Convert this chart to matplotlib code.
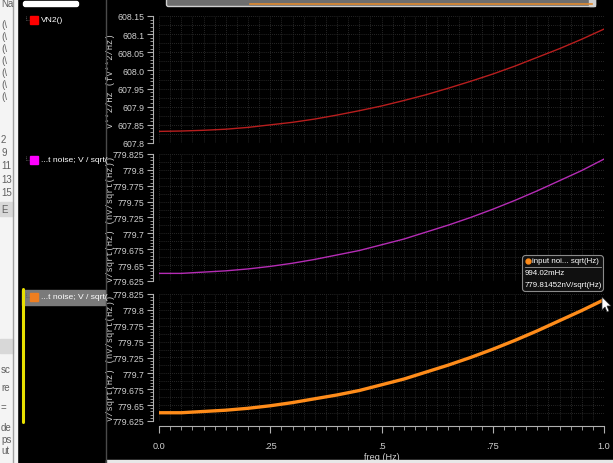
import numpy as np
import matplotlib
matplotlib.use("Agg")
import matplotlib.pyplot as plt
from matplotlib.ticker import MultipleLocator, FixedFormatter
from matplotlib.patches import Rectangle, FancyBboxPatch

freq = [0.0, 0.05, 0.1, 0.15, 0.2, 0.25, 0.3, 0.35, 0.4, 0.45, 0.5,
        0.55, 0.6, 0.65, 0.7, 0.75, 0.8, 0.85, 0.9, 0.95, 1.0]
vn2 = [607.832, 607.833, 607.835, 607.838, 607.843, 607.850, 607.857,
       607.866, 607.877, 607.889, 607.902, 607.917, 607.933, 607.951,
       607.970, 607.990, 608.012, 608.036, 608.060, 608.086, 608.114]
vn_mid = [779.637, 779.637, 779.639, 779.641, 779.644, 779.648, 779.653,
          779.659, 779.666, 779.673, 779.682, 779.691, 779.702, 779.713,
          779.725, 779.738, 779.752, 779.767, 779.783, 779.799, 779.817]
vn_bot = [779.638, 779.638, 779.640, 779.642, 779.645, 779.649, 779.654,
          779.660, 779.666, 779.673, 779.682, 779.691, 779.702, 779.713,
          779.725, 779.738, 779.752, 779.767, 779.783, 779.799, 779.816]

xtick_vals = [0.0, 0.25, 0.5, 0.75, 1.0]
xtick_labels = ["0.0", ".25", ".5", ".75", "1.0"]
top_ticks = [607.8, 607.85, 607.9, 607.95, 608.0, 608.05, 608.1, 608.15]
top_labels = ["607.8", "607.85", "607.9", "607.95", "608.0", "608.05", "608.1", "608.15"]
nv_ticks = [779.625, 779.65, 779.675, 779.7, 779.725, 779.75, 779.775, 779.8, 779.825]
nv_labels = ["779.625", "779.65", "779.675", "779.7", "779.725", "779.75", "779.775", "779.8", "779.825"]

W, H = 613, 464
fig = plt.figure(figsize=(W / 100, H / 100), dpi=100, facecolor="black")

TXT = "#d0d0d0"
GRID = "#333333"
UI = dict(family="Liberation Sans")


def px_axes(x0, y0, x1, y1, **kw):
    return fig.add_axes([x0 / W, 1 - y1 / H, (x1 - x0) / W, (y1 - y0) / H], **kw)


def style_panel(ax, ylim, ticks, labels, minor_step, grid_step, ylabel, show_x):
    ax.set_facecolor("black")
    ax.set_xlim(0, 1)
    ax.set_ylim(*ylim)
    for s in ("top", "right"):
        ax.spines[s].set_visible(False)
    ax.spines["left"].set_position(("outward", 4.3))
    ax.spines["left"].set_color("#b0b0b0")
    ax.set_yticks(ticks)
    ax.yaxis.set_major_formatter(FixedFormatter(labels))
    ax.yaxis.set_minor_locator(MultipleLocator(minor_step))
    ax.tick_params(axis="y", which="major", length=4, width=0.8, colors="#b0b0b0",
                   labelcolor=TXT, labelsize=6.3, pad=2)
    ax.tick_params(axis="y", which="minor", length=2, width=0.6, colors="#b0b0b0")
    for lab in ax.get_yticklabels():
        lab.set(**UI)
    # dotted grid
    for xv in np.arange(0, 1.0001, 0.025):
        ax.axvline(xv, color=GRID, lw=0.6, ls=(0, (1, 1.5)), zorder=0)
    for yv in np.arange(ylim[0], ylim[1] + 1e-9, grid_step):
        ax.axhline(yv, color=GRID, lw=0.6, ls=(0, (1, 1.5)), zorder=0)
    ax.set_ylabel(ylabel, family="Liberation Mono", fontsize=6.3, color=TXT)
    ax.yaxis.set_label_coords(-0.099, 0.5)
    if show_x:
        ax.spines["bottom"].set_position(("outward", 3.6))
        ax.spines["bottom"].set_color("#b0b0b0")
        ax.set_xticks(xtick_vals)
        ax.set_xticklabels(xtick_labels, **UI)
        ax.xaxis.set_minor_locator(MultipleLocator(0.025))
        ax.tick_params(axis="x", which="major", length=5, width=0.8, colors="#b0b0b0",
                       labelcolor=TXT, labelsize=6.6, pad=6)
        ax.tick_params(axis="x", which="minor", length=3, width=0.6, colors="#b0b0b0")
        ax.set_xlabel("freq (Hz)", fontsize=6.6, color=TXT, labelpad=1, **UI)
    else:
        ax.spines["bottom"].set_visible(False)
        ax.set_xticks([])
        ax.xaxis.set_minor_locator(MultipleLocator(1))
        ax.tick_params(axis="x", which="both", length=0)


ax1 = px_axes(159, 17, 604, 144)
style_panel(ax1, (607.8, 608.15), top_ticks, top_labels, 0.01, 0.025,
            "V**2/Hz (fV**2/Hz)", False)
ax1.plot(freq, vn2, color="#b81e1e", lw=1.0)

ax2 = px_axes(159, 155, 604, 282)
style_panel(ax2, (779.625, 779.825), nv_ticks, nv_labels, 0.005, 0.0125,
            "V/sqrt(Hz) (nV/sqrt(Hz))", False)
ax2.plot(freq, vn_mid, color="#b52cb5", lw=1.0)

ax3 = px_axes(159, 295, 604, 422)
style_panel(ax3, (779.625, 779.825), nv_ticks, nv_labels, 0.005, 0.0125,
            "V/sqrt(Hz) (nV/sqrt(Hz))", True)
ax3.plot(freq, vn_bot, color="#ff8c1a", lw=2.4, solid_capstyle="butt")

# ---- GUI chrome overlay ----
ov = fig.add_axes([0, 0, 1, 1], zorder=5)
ov.set_xlim(0, W)
ov.set_ylim(H, 0)
ov.axis("off")
ov.patch.set_alpha(0)

# left white browser strip
ov.add_patch(Rectangle((0, 0), 17, H, color="#f4f4f4"))
ov.add_line(plt.Line2D([13, 13], [0, H], color="#a0a0a0", lw=1))
ov.add_patch(Rectangle((0, 203), 13, 14, color="#d8d8d8"))
ov.add_patch(Rectangle((0, 340), 13, 14, color="#d8d8d8"))
strip_clip = Rectangle((0, 0), 12, H, transform=ov.transData)
frag = [(4, "Na"), (25, "(\\"), (37, "(\\"), (49, "(\\"), (61, "(\\"), (73, "(\\"),
        (85, "(\\"), (97, "(\\"), (140, "2"), (153, "9"), (166, "11"), (180, "13"),
        (193, "15"), (210, "E"), (370, "sc"), (388, "re"), (408, "="),
        (428, "de"), (440, "ps"), (451, "ut")]
for yy, s in frag:
    t = ov.text(1, yy, s, fontsize=7, color="#606060", va="center", ha="left", **UI)
    t.set_clip_path(strip_clip)

# legend panel separator
ov.add_line(plt.Line2D([106, 106], [0, H], color="#4a4a4a", lw=1))
ov.add_patch(FancyBboxPatch((24, 3), 54, 4, boxstyle="round,pad=0.5,rounding_size=2",
                            color="white"))
# top scrollbar
ov.add_patch(FancyBboxPatch((167, 0), 428, 7, boxstyle="round,pad=0.5,rounding_size=2",
                            facecolor="#6e6e6e", edgecolor="#cfcfcf", lw=1))
ov.add_line(plt.Line2D([250, 592], [5, 5], color="#e08a30", lw=1.2))
ov.add_patch(Rectangle((589, 0), 6, 7, color="#d0d0d0"))

# legend entries
ov.add_patch(Rectangle((22, 291), 83, 15, color="#7a7a7a"))
ov.add_line(plt.Line2D([23, 23], [290, 423], color="#e8e000", lw=2.2,
                       solid_capstyle="round"))
entries = [(21, "#ff0000", "VN2()"), (161, "#ff00ff", "...t noise; V / sqrt("),
           (298, "#ee7e20", "...t noise; V / sqrt(")]
for yy, col, lab in entries:
    ov.add_line(plt.Line2D([26, 26, 29], [yy - 4, yy, yy], color="#606060", lw=0.6,
                           ls=(0, (1, 1))))
    ov.add_patch(Rectangle((30, yy - 4), 8, 8, color=col))
    ov.text(41, yy, lab, fontsize=6.1, color="white", va="center", ha="left", **UI)

# marker tooltip
ov.add_patch(FancyBboxPatch((523, 257), 80, 35, boxstyle="round,pad=0.5,rounding_size=3",
                            facecolor="#101010", edgecolor="#8a8a8a", lw=0.8))
ov.plot([528], [262], "o", color="#ff8c1a", ms=3.5)
ov.text(532, 262, "input noi... sqrt(Hz)", fontsize=5.7, color="white", va="center", **UI)
ov.add_line(plt.Line2D([525, 601], [268, 268], color="#9a9a9a", lw=0.6))
ov.text(525, 274, "994.02mHz", fontsize=5.7, color="white", va="center", **UI)
ov.text(525, 286, "779.81452nV/sqrt(Hz)", fontsize=5.7, color="white", va="center", **UI)
# mouse pointer
ov.fill([602, 602, 605, 607, 609, 607, 611], [298, 311, 308, 313, 312, 307, 307],
        facecolor="white", edgecolor="#303030", lw=0.5)

# bottom white edge
ov.add_patch(Rectangle((106, 461), W - 106, 3, color="#e8e8e8"))

fig.savefig("out.png", dpi=100, facecolor="black")
